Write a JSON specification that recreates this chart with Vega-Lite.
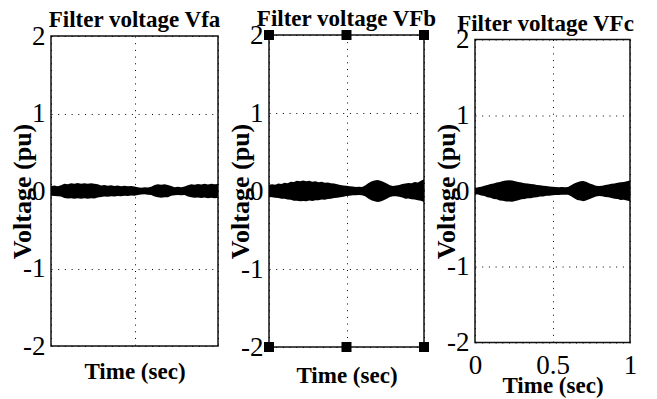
{
  "$schema": "https://vega.github.io/schema/vega-lite/v6.json",
  "background": "white",
  "padding": {"left": 8, "top": 7, "right": 0, "bottom": 0},
  "datasets": {
    "vfa": [
      {"t": 0, "hi": 0.06, "lo": -0.06},
      {"t": 0.02, "hi": 0.07, "lo": -0.066},
      {"t": 0.04, "hi": 0.062, "lo": -0.068},
      {"t": 0.06, "hi": 0.075, "lo": -0.07},
      {"t": 0.08, "hi": 0.095, "lo": -0.09},
      {"t": 0.1, "hi": 0.088, "lo": -0.096},
      {"t": 0.12, "hi": 0.1, "lo": -0.092},
      {"t": 0.14, "hi": 0.094, "lo": -0.1},
      {"t": 0.16, "hi": 0.102, "lo": -0.095},
      {"t": 0.18, "hi": 0.095, "lo": -0.101},
      {"t": 0.2, "hi": 0.1, "lo": -0.094},
      {"t": 0.22, "hi": 0.093, "lo": -0.1},
      {"t": 0.24, "hi": 0.101, "lo": -0.093},
      {"t": 0.26, "hi": 0.092, "lo": -0.097},
      {"t": 0.28, "hi": 0.088, "lo": -0.085},
      {"t": 0.3, "hi": 0.072, "lo": -0.077},
      {"t": 0.32, "hi": 0.078, "lo": -0.07},
      {"t": 0.34, "hi": 0.068, "lo": -0.074},
      {"t": 0.36, "hi": 0.073, "lo": -0.067},
      {"t": 0.38, "hi": 0.064, "lo": -0.07},
      {"t": 0.4, "hi": 0.07, "lo": -0.063},
      {"t": 0.42, "hi": 0.062, "lo": -0.068},
      {"t": 0.44, "hi": 0.068, "lo": -0.062},
      {"t": 0.46, "hi": 0.06, "lo": -0.066},
      {"t": 0.48, "hi": 0.065, "lo": -0.059},
      {"t": 0.5, "hi": 0.058, "lo": -0.062},
      {"t": 0.52, "hi": 0.05, "lo": -0.053},
      {"t": 0.54, "hi": 0.042, "lo": -0.046},
      {"t": 0.56, "hi": 0.048, "lo": -0.043},
      {"t": 0.58, "hi": 0.044, "lo": -0.049},
      {"t": 0.6, "hi": 0.055, "lo": -0.05},
      {"t": 0.62, "hi": 0.078, "lo": -0.072},
      {"t": 0.64, "hi": 0.088, "lo": -0.082},
      {"t": 0.66, "hi": 0.08, "lo": -0.088},
      {"t": 0.68, "hi": 0.087, "lo": -0.08},
      {"t": 0.7, "hi": 0.076, "lo": -0.082},
      {"t": 0.72, "hi": 0.065, "lo": -0.062},
      {"t": 0.74, "hi": 0.05, "lo": -0.055},
      {"t": 0.76, "hi": 0.056, "lo": -0.05},
      {"t": 0.78, "hi": 0.048, "lo": -0.054},
      {"t": 0.8, "hi": 0.058, "lo": -0.052},
      {"t": 0.82, "hi": 0.075, "lo": -0.07},
      {"t": 0.84, "hi": 0.088, "lo": -0.082},
      {"t": 0.86, "hi": 0.08, "lo": -0.088},
      {"t": 0.88, "hi": 0.09, "lo": -0.083},
      {"t": 0.9, "hi": 0.084, "lo": -0.09},
      {"t": 0.92, "hi": 0.092, "lo": -0.085},
      {"t": 0.94, "hi": 0.085, "lo": -0.092},
      {"t": 0.96, "hi": 0.093, "lo": -0.086},
      {"t": 0.98, "hi": 0.086, "lo": -0.092},
      {"t": 1, "hi": 0.09, "lo": -0.088}
    ],
    "vfb": [
      {"t": 0, "hi": 0.08, "lo": -0.078},
      {"t": 0.02, "hi": 0.085, "lo": -0.08},
      {"t": 0.04, "hi": 0.08, "lo": -0.087},
      {"t": 0.06, "hi": 0.095, "lo": -0.089},
      {"t": 0.08, "hi": 0.09, "lo": -0.098},
      {"t": 0.1, "hi": 0.105, "lo": -0.098},
      {"t": 0.12, "hi": 0.1, "lo": -0.108},
      {"t": 0.14, "hi": 0.12, "lo": -0.112},
      {"t": 0.16, "hi": 0.115, "lo": -0.124},
      {"t": 0.18, "hi": 0.132, "lo": -0.125},
      {"t": 0.2, "hi": 0.125, "lo": -0.133},
      {"t": 0.22, "hi": 0.135, "lo": -0.127},
      {"t": 0.24, "hi": 0.124, "lo": -0.132},
      {"t": 0.26, "hi": 0.13, "lo": -0.123},
      {"t": 0.28, "hi": 0.12, "lo": -0.127},
      {"t": 0.3, "hi": 0.125, "lo": -0.118},
      {"t": 0.32, "hi": 0.113, "lo": -0.12},
      {"t": 0.34, "hi": 0.118, "lo": -0.11},
      {"t": 0.36, "hi": 0.105, "lo": -0.112},
      {"t": 0.38, "hi": 0.108, "lo": -0.102},
      {"t": 0.4, "hi": 0.098, "lo": -0.1},
      {"t": 0.42, "hi": 0.095, "lo": -0.09},
      {"t": 0.44, "hi": 0.085, "lo": -0.088},
      {"t": 0.46, "hi": 0.078, "lo": -0.08},
      {"t": 0.48, "hi": 0.07, "lo": -0.073},
      {"t": 0.5, "hi": 0.066, "lo": -0.064},
      {"t": 0.52, "hi": 0.06, "lo": -0.062},
      {"t": 0.54, "hi": 0.058, "lo": -0.055},
      {"t": 0.56, "hi": 0.052, "lo": -0.056},
      {"t": 0.58, "hi": 0.055, "lo": -0.05},
      {"t": 0.6, "hi": 0.05, "lo": -0.054},
      {"t": 0.62, "hi": 0.07, "lo": -0.066},
      {"t": 0.64, "hi": 0.1, "lo": -0.095},
      {"t": 0.66, "hi": 0.122, "lo": -0.118},
      {"t": 0.68, "hi": 0.135, "lo": -0.132},
      {"t": 0.7, "hi": 0.14, "lo": -0.142},
      {"t": 0.72, "hi": 0.132, "lo": -0.136},
      {"t": 0.74, "hi": 0.115, "lo": -0.118},
      {"t": 0.76, "hi": 0.095, "lo": -0.098},
      {"t": 0.78, "hi": 0.075, "lo": -0.078},
      {"t": 0.8, "hi": 0.065, "lo": -0.068},
      {"t": 0.82, "hi": 0.07, "lo": -0.066},
      {"t": 0.84, "hi": 0.078, "lo": -0.075},
      {"t": 0.86, "hi": 0.09, "lo": -0.084},
      {"t": 0.88, "hi": 0.095, "lo": -0.1},
      {"t": 0.9, "hi": 0.102, "lo": -0.096},
      {"t": 0.92, "hi": 0.098, "lo": -0.106},
      {"t": 0.94, "hi": 0.115, "lo": -0.108},
      {"t": 0.96, "hi": 0.11, "lo": -0.12},
      {"t": 0.98, "hi": 0.13, "lo": -0.125},
      {"t": 1, "hi": 0.15, "lo": -0.14}
    ],
    "vfc": [
      {"t": 0, "hi": 0.04, "lo": -0.042},
      {"t": 0.02, "hi": 0.05, "lo": -0.046},
      {"t": 0.04, "hi": 0.055, "lo": -0.058},
      {"t": 0.06, "hi": 0.07, "lo": -0.066},
      {"t": 0.08, "hi": 0.08, "lo": -0.084},
      {"t": 0.1, "hi": 0.092, "lo": -0.088},
      {"t": 0.12, "hi": 0.1, "lo": -0.104},
      {"t": 0.14, "hi": 0.112, "lo": -0.108},
      {"t": 0.16, "hi": 0.12, "lo": -0.124},
      {"t": 0.18, "hi": 0.132, "lo": -0.128},
      {"t": 0.2, "hi": 0.138, "lo": -0.14},
      {"t": 0.22, "hi": 0.142, "lo": -0.138},
      {"t": 0.24, "hi": 0.138, "lo": -0.142},
      {"t": 0.26, "hi": 0.13, "lo": -0.132},
      {"t": 0.28, "hi": 0.118, "lo": -0.122},
      {"t": 0.3, "hi": 0.112, "lo": -0.11},
      {"t": 0.32, "hi": 0.103, "lo": -0.107},
      {"t": 0.34, "hi": 0.1, "lo": -0.097},
      {"t": 0.36, "hi": 0.092, "lo": -0.095},
      {"t": 0.38, "hi": 0.088, "lo": -0.085},
      {"t": 0.4, "hi": 0.08, "lo": -0.083},
      {"t": 0.42, "hi": 0.077, "lo": -0.074},
      {"t": 0.44, "hi": 0.07, "lo": -0.072},
      {"t": 0.46, "hi": 0.065, "lo": -0.063},
      {"t": 0.48, "hi": 0.06, "lo": -0.062},
      {"t": 0.5, "hi": 0.056, "lo": -0.055},
      {"t": 0.52, "hi": 0.054, "lo": -0.052},
      {"t": 0.54, "hi": 0.05, "lo": -0.053},
      {"t": 0.56, "hi": 0.052, "lo": -0.049},
      {"t": 0.58, "hi": 0.048, "lo": -0.051},
      {"t": 0.6, "hi": 0.052, "lo": -0.05},
      {"t": 0.62, "hi": 0.075, "lo": -0.07},
      {"t": 0.64, "hi": 0.1, "lo": -0.096},
      {"t": 0.66, "hi": 0.115, "lo": -0.118},
      {"t": 0.68, "hi": 0.128, "lo": -0.125},
      {"t": 0.7, "hi": 0.132, "lo": -0.134},
      {"t": 0.72, "hi": 0.12, "lo": -0.122},
      {"t": 0.74, "hi": 0.1, "lo": -0.104},
      {"t": 0.76, "hi": 0.085, "lo": -0.088},
      {"t": 0.78, "hi": 0.07, "lo": -0.072},
      {"t": 0.8, "hi": 0.065, "lo": -0.066},
      {"t": 0.82, "hi": 0.07, "lo": -0.068},
      {"t": 0.84, "hi": 0.078, "lo": -0.08},
      {"t": 0.86, "hi": 0.085, "lo": -0.083},
      {"t": 0.88, "hi": 0.095, "lo": -0.092},
      {"t": 0.9, "hi": 0.1, "lo": -0.103},
      {"t": 0.92, "hi": 0.108, "lo": -0.105},
      {"t": 0.94, "hi": 0.115, "lo": -0.118},
      {"t": 0.96, "hi": 0.12, "lo": -0.116},
      {"t": 0.98, "hi": 0.13, "lo": -0.127},
      {"t": 1, "hi": 0.14, "lo": -0.136}
    ],
    "handles": [
      {"t": 0, "hi": 2},
      {"t": 0.5, "hi": 2},
      {"t": 1, "hi": 2},
      {"t": 0, "hi": -2},
      {"t": 0.5, "hi": -2},
      {"t": 1, "hi": -2}
    ]
  },
  "spacing": 51,
  "bounds": "flush",
  "center": true,
  "hconcat": [
    {
      "width": 167,
      "height": 310,
      "title": {"text": "Filter voltage Vfa", "offset": -10},
      "data": {"name": "vfa"},
      "mark": {"type": "area", "color": "#000", "opacity": 1},
      "encoding": {
        "x": {"field": "t", "type": "quantitative", "scale": {"domain": [0, 1], "nice": false},
              "axis": {"values": [0, 0.5, 1], "labels": false, "title": "Time (sec)", "titlePadding": 14}},
        "y": {"field": "hi", "type": "quantitative", "scale": {"domain": [-2, 2], "nice": false},
              "axis": {"values": [-2, -1, 0, 1, 2], "title": "Voltage (pu)"}},
        "y2": {"field": "lo"}
      }
    },
    {
      "width": 155,
      "height": 312,
      "title": {"text": "Filter voltage VFb", "offset": -10},
      "layer": [
        {
          "data": {"name": "vfb"},
          "mark": {"type": "area", "color": "#000", "opacity": 1},
          "encoding": {
            "x": {"field": "t", "type": "quantitative", "scale": {"domain": [0, 1], "nice": false},
                  "axis": {"values": [0, 0.5, 1], "labels": false, "title": "Time (sec)", "titlePadding": 17}},
            "y": {"field": "hi", "type": "quantitative", "scale": {"domain": [-2, 2], "nice": false},
                  "axis": {"values": [-2, -1, 0, 1, 2], "title": "Voltage (pu)"}},
            "y2": {"field": "lo"}
          }
        },
        {
          "data": {"name": "handles"},
          "mark": {"type": "square", "color": "#000", "size": 100, "opacity": 1},
          "encoding": {
            "x": {"field": "t", "type": "quantitative"},
            "y": {"field": "hi", "type": "quantitative"}
          }
        }
      ]
    },
    {
      "width": 155,
      "height": 303,
      "title": {"text": "Filter voltage VFc", "offset": -10, "dx": -7},
      "data": {"name": "vfc"},
      "mark": {"type": "area", "color": "#000", "opacity": 1},
      "encoding": {
        "x": {"field": "t", "type": "quantitative", "scale": {"domain": [0, 1], "nice": false},
              "axis": {"values": [0, 0.5, 1], "labels": true, "labelPadding": 10, "title": "Time (sec)", "titlePadding": -4}},
        "y": {"field": "hi", "type": "quantitative", "scale": {"domain": [-2, 2], "nice": false},
              "axis": {"values": [-2, -1, 0, 1, 2], "title": "Voltage (pu)"}},
        "y2": {"field": "lo"}
      }
    }
  ],
  "config": {
    "font": "Liberation Serif",
    "view": {"stroke": "#111", "strokeWidth": 1.5},
    "title": {"font": "Liberation Serif", "fontSize": 23, "fontWeight": "bold", "color": "#000", "anchor": "middle", "frame": "group"},
    "axis": {
      "labelFont": "Liberation Serif",
      "labelFontSize": 27,
      "labelColor": "#000",
      "labelOverlap": false,
      "labelFlush": false,
      "labelBound": false,
      "labelExpr": "'' + datum.value",
      "titleFont": "Liberation Serif",
      "titleFontWeight": "bold",
      "titleColor": "#000",
      "grid": true,
      "gridColor": "#000",
      "gridDash": [1, 5.7],
      "gridWidth": 1,
      "gridOpacity": 1,
      "domain": false,
      "ticks": false
    },
    "axisX": {"titleFontSize": 23},
    "axisY": {"titleFontSize": 26, "labelPadding": 6, "titlePadding": -13}
  }
}
